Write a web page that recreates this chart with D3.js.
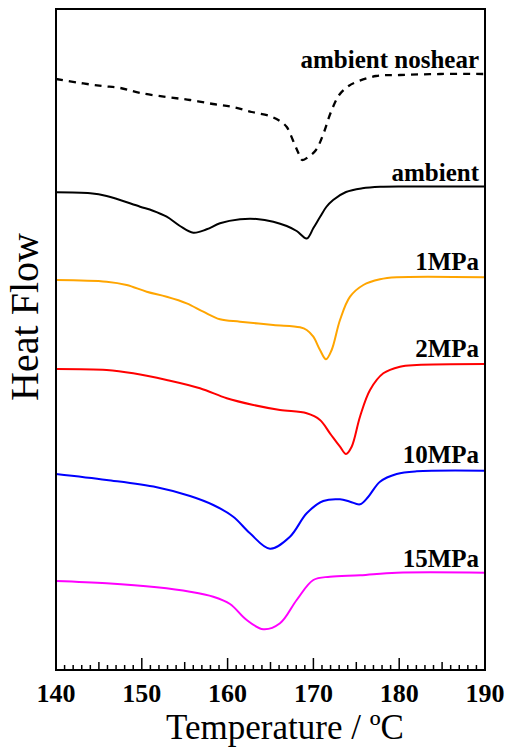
<!DOCTYPE html>
<html><head><meta charset="utf-8">
<script src="https://cdn.jsdelivr.net/npm/d3@7"></script>
<style>body{margin:0;background:#fff} text{font-family:"Liberation Serif","Times New Roman",Times,serif}</style>
</head><body>
<script>
// Temperature (°C) and heat flow (arbitrary units, curves offset)
const nosT = [140,142.8,145.4,147.5,149.8,152.9,155.6,158.3,160.6,162.8,164.9,166.1,166.9,167.6,168.2,168.7,169.4,170.3,171.2,172.0,173.0,174.1,175.0,177.3,180.1,184.8,190];
const nosV = [591,587,584,582,577,573,570,566,563,558,554,549,543,530,518,510,513,520,537,557,575,584,588,594,595,596,596];
const ambT = [140,144.0,145.9,149.8,151.3,152.9,154.45,156.0,157.56,159.11,161.45,163.39,165.33,166.89,168.05,169.22,170.0,170.77,171.5,172.3,173.8,175.7,177.8,180.9,190];
const ambV = [477.7,476.7,474,463.3,459.3,453.3,444,437.3,440.7,446.7,450.7,451,448.3,444,439,431.5,442,453,463,470,478,481.7,483.2,483.5,483.5];
const m1T = [140,145.9,148.24,150.57,152.9,155.23,157.17,159.11,161.45,165.33,168.44,169.22,169.99,170.77,171.47,172.13,173.10,174.27,175.82,177.76,179.71,190];
const m1V = [390,388.3,385,378.3,373.3,366.7,358.3,350.7,348.3,345,342.7,340,333.3,320,310.7,320,350,373.3,385,390.7,392.7,392.7];
const m2T = [140,145.9,149.0,152.9,156.78,159.90,163.0,166.11,169.22,170.77,171.93,173.10,173.80,174.46,175.43,176.60,178.15,180.09,182.04,190];
const m2V = [301,300,296.7,290,281.7,271.7,265,260,256.7,250,236.7,223.3,216,223.3,253.3,280,296.7,303.3,305,306];
const m10T = [140,145.9,151.74,155.62,158.33,160.66,162.61,164.94,167.27,169.22,171.15,173.10,174.27,175.43,176.40,177.76,179.71,182.04,190];
const m10V = [196,190,182.7,174,165,153.3,136.7,121.3,133.3,156.7,169,170.7,168.3,165.7,173.3,188.3,196,198.7,199.3];
const m15T = [140,145.9,151.74,155.62,158.33,160.28,162.23,164.16,166.11,168.05,169.99,171.93,175.43,179.71,190];
const m15V = [89,86.7,82.7,78.3,73.3,66,50,40.7,46.7,70,90,93.3,94.7,97.3,97.3];
const seriesNames = ["ambient noshear","ambient","1MPa","2MPa","10MPa","15MPa"];
const seriesColors = ["#000000","#000000","#FFA500","#FF0000","#0000FF","#FF00FF"];
const tickLabels = [140,150,160,170,180,190];

const W = 508, H = 753;
const L = 56, R = 485, T = 9, B = 670;
const svg = d3.select("body").append("svg").attr("width", W).attr("height", H);
const x = d3.scaleLinear().domain([140,190]).range([L,R]);
const y = d3.scaleLinear().domain([0,661]).range([B,T]);

const series = [
  {T:nosT,V:nosV,dash:"7,6",w:2.3},
  {T:ambT,V:ambV},
  {T:m1T,V:m1V},
  {T:m2T,V:m2V},
  {T:m10T,V:m10V},
  {T:m15T,V:m15V}
];
const line = d3.line().x(d=>x(d[0])).y(d=>y(d[1])).curve(d3.curveCatmullRom.alpha(0.5));
series.forEach((s,i)=>{
  svg.append("path").datum(s.T.map((t,j)=>[t,s.V[j]]))
    .attr("d", line).attr("fill","none")
    .attr("stroke", seriesColors[i]).attr("stroke-width", s.w || 2)
    .attr("stroke-dasharray", s.dash || null);
});

// labels
const labelBase = [68,181,270,357,463,567];
seriesNames.forEach((n,i)=>{
  svg.append("text").attr("x",479).attr("y",labelBase[i])
    .attr("text-anchor","end")
    .attr("font-weight","bold").attr("font-size",25).attr("fill","#000").text(n);
});

// frame
svg.append("rect").attr("x",L).attr("y",T).attr("width",R-L).attr("height",B-T)
  .attr("fill","none").attr("stroke","#000").attr("stroke-width",2);

// ticks (inward)
const ticks = d3.range(140,191,1);
svg.append("g").selectAll("line").data(ticks).join("line")
  .attr("x1",d=>x(d)).attr("x2",d=>x(d))
  .attr("y1",B).attr("y2",d=> B - (d%10===0?12:(d%5===0?8:5)))
  .attr("stroke","#000").attr("stroke-width",1.5);

svg.append("g").selectAll("text").data(tickLabels).join("text")
  .attr("x",d=>x(d)).attr("y",702).attr("text-anchor","middle")
  .attr("font-weight","bold")
  .attr("font-size",26).text(d=>d);

svg.append("text").attr("x",285).attr("y",739).attr("text-anchor","middle")
  .attr("font-size",35).text("Temperature / ºC");
svg.append("text").attr("transform","translate(38,317) rotate(-90)").attr("text-anchor","middle")
  .attr("font-size",40).text("Heat Flow");
</script>
</body></html>
